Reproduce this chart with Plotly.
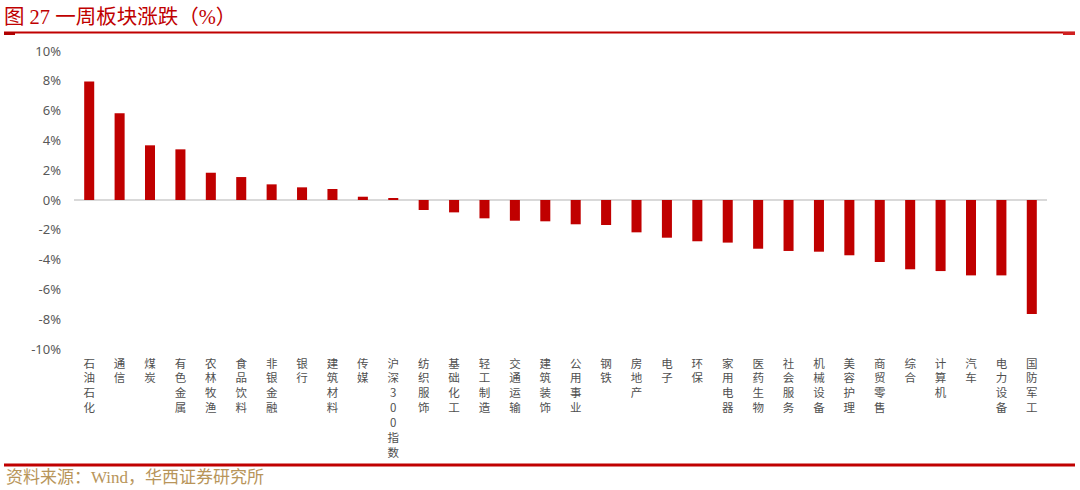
import plotly.graph_objects as go

categories = ["石油石化", "通信", "煤炭", "有色金属", "农林牧渔", "食品饮料", "非银金融", "银行",
              "建筑材料", "传媒", "沪深300指数", "纺织服饰", "基础化工", "轻工制造", "交通运输",
              "建筑装饰", "公用事业", "钢铁", "房地产", "电子", "环保", "家用电器", "医药生物",
              "社会服务", "机械设备", "美容护理", "商贸零售", "综合", "计算机", "汽车", "电力设备", "国防军工"]
values = [7.95, 5.82, 3.67, 3.40, 1.83, 1.54, 1.05, 0.85, 0.74, 0.22, 0.11, -0.67, -0.83, -1.23,
          -1.39, -1.43, -1.63, -1.68, -2.17, -2.53, -2.77, -2.86, -3.27, -3.42, -3.47, -3.71,
          -4.16, -4.65, -4.77, -5.06, -5.06, -7.65]
y_ticks = [10, 8, 6, 4, 2, 0, -2, -4, -6, -8, -10]
y_ticktext = [f"{v}%" for v in y_ticks]

title_text = "图 27 一周板块涨跌（%）"
source_text = "资料来源：Wind，华西证券研究所"

W, H = 1080, 490
L, R, T, B = 74, 33, 51, 141
pw, ph = W - L - R, H - T - B

def px_x(x):
    return (x - L) / pw

def px_y(y):
    return (H - B - y) / ph

# vertical (stacked) category labels
tick_text = ["<br>".join([ch for ch in c]) for c in categories]

fig = go.Figure()
fig.add_trace(go.Bar(x=categories, y=values, marker=dict(color="#C00000", line=dict(width=0)),
                     hoverinfo="x+y"))

red = "#C00000"
shapes = [
    dict(type="line", xref="paper", yref="paper", x0=px_x(4), x1=px_x(1075), y0=px_y(32.5), y1=px_y(32.5),
         line=dict(color=red, width=2)),
    dict(type="rect", xref="paper", yref="paper", x0=px_x(4), x1=px_x(15), y0=px_y(32), y1=px_y(35),
         line=dict(width=0), fillcolor="#B00000"),
    dict(type="rect", xref="paper", yref="paper", x0=px_x(1063), x1=px_x(1075), y0=px_y(32), y1=px_y(35),
         line=dict(width=0), fillcolor="#D02020"),
    dict(type="line", xref="paper", yref="paper", x0=px_x(4), x1=px_x(1075), y0=px_y(465), y1=px_y(465),
         line=dict(color=red, width=3)),
]

fig.update_layout(
    width=W, height=H,
    margin=dict(l=L, r=R, t=T, b=B),
    paper_bgcolor="white", plot_bgcolor="white",
    showlegend=False,
    bargap=0.67,
    font=dict(family="Noto Sans CJK SC, Noto Sans, sans-serif", color="#595959"),
    xaxis=dict(tickmode="array", tickvals=categories, ticktext=tick_text, tickangle=0,
               tickfont=dict(size=11.5, color="#505050", family="Noto Sans CJK SC"),
               showgrid=False, showline=False, zeroline=False, ticks="",
               ticklabelstandoff=6,
               range=[-0.5, len(categories) - 0.5]),
    yaxis=dict(range=[-10, 10], tickmode="array", tickvals=y_ticks, ticktext=y_ticktext,
               tickfont=dict(size=13, color="#595959", family="Noto Sans, Noto Sans CJK SC"),
               showgrid=False, showline=False, ticks="",
               zeroline=True, zerolinecolor="#D9D9D9", zerolinewidth=1.5,
               ticklabelstandoff=12),
    shapes=shapes,
    annotations=[
        dict(text=title_text, xref="paper", yref="paper", x=px_x(2), y=px_y(17),
             xanchor="left", yanchor="middle", showarrow=False,
             font=dict(size=20.5, color=red, family="Liberation Serif, Noto Sans CJK SC")),
        dict(text=source_text, xref="paper", yref="paper", x=px_x(4), y=px_y(478),
             xanchor="left", yanchor="middle", showarrow=False,
             font=dict(size=17, color="#B8955A", family="Liberation Serif, Noto Sans CJK SC")),
    ],
)

fig.write_html("out.html", config={"displayModeBar": False},
               post_script="document.body.style.margin='0';document.body.style.overflow='hidden';")
